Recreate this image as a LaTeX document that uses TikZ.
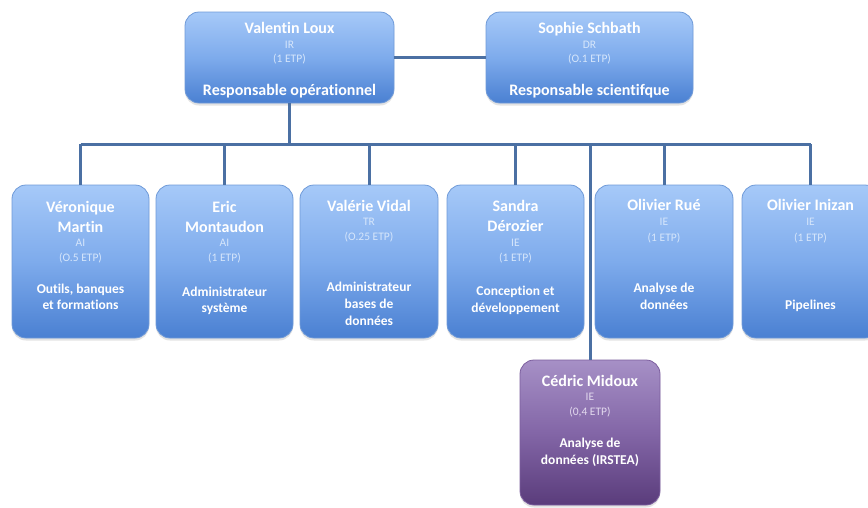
\documentclass[tikz,border=0pt]{standalone}
\usepackage{fontspec}
\setmainfont[Ligatures=NoCommon]{Carlito}
\usetikzlibrary{shadows}
\definecolor{btop}{HTML}{A6C9F8}
\definecolor{bmid}{HTML}{7EABEC}
\definecolor{bbot}{HTML}{4A80D2}
\definecolor{bline}{HTML}{6F9AD8}
\definecolor{ptop}{HTML}{A690C6}
\definecolor{pmid}{HTML}{8366A7}
\definecolor{pbot}{HTML}{5A3C7B}
\definecolor{pline}{HTML}{7C5E9E}
\definecolor{conn}{HTML}{4B70A3}
\definecolor{smb}{HTML}{D6E6FB}
\definecolor{smp}{HTML}{E2D9EE}
\begin{document}
\begin{tikzpicture}[x=1pt,y=-1pt,
  box/.style={rectangle, rounded corners=14pt, draw=bline, line width=0.8pt,
    top color=btop, bottom color=bbot, middle color=bmid,
    drop shadow={opacity=0.22, shadow xshift=0pt, shadow yshift=-2.5pt},
    inner sep=0pt},
  pbox/.style={box, draw=pline, top color=ptop, bottom color=pbot, middle color=pmid},
  nm/.style={text=white, font=\fontsize{16}{19}\selectfont\bfseries, anchor=base, inner sep=0pt},
  sm/.style={text=smb, font=\fontsize{11.5}{13}\selectfont, anchor=base, inner sep=0pt},
  smv/.style={sm, text=smp},
  rlt/.style={text=white, font=\fontsize{16}{19}\selectfont\bfseries, anchor=base, inner sep=0pt},
  rl/.style={text=white, font=\fontsize{13.5}{16}\selectfont\bfseries, anchor=base, inner sep=0pt},
  wire/.style={draw=conn, line width=3pt}
]
\useasboundingbox[fill=white] (0,0) rectangle (868,507);

% boxes
\node[box, minimum width=209pt, minimum height=91pt] (vl) at (289.5,57.5) {};
\node[box, minimum width=207pt, minimum height=91pt] (ss) at (589.5,57.5) {};
\node[box, minimum width=137pt, minimum height=153pt] (vm) at (80.5,261.5) {};
\node[box, minimum width=137pt, minimum height=153pt] (em) at (224.5,261.5) {};
\node[box, minimum width=138pt, minimum height=153pt] (vv) at (369,261.5) {};
\node[box, minimum width=137pt, minimum height=153pt] (sd) at (515.5,261.5) {};
\node[box, minimum width=138pt, minimum height=153pt] (or) at (664,261.5) {};
\node[box, minimum width=137pt, minimum height=153pt] (oi) at (810.5,261.5) {};
\node[pbox, minimum width=140pt, minimum height=145pt] (cm) at (590,432.5) {};

% connectors
\coordinate (bus) at (288,144);
\draw[wire] (vl.east) -- (ss.west);
\draw[wire] (vl.south) -- (vl.south |- bus);
\draw[wire] (vm.north |- bus) -- (oi.north |- bus);
\foreach \b in {vm,em,vv,sd,or,oi,cm}{
  \draw[wire] (\b.north) -- (\b.north |- bus);
}

% Valentin Loux
\node[nm] (vl1) at (289.5,33) {Valentin Loux};
\node[sm] (vl2) at (289.5,48) {IR};
\node[sm] (vl3) at (289.5,62) {(1 ETP)};
\node[rlt] (vl4) at (289.5,95) {Responsable opérationnel};
% Sophie Schbath
\node[nm] (ss1) at (589.5,33) {Sophie Schbath};
\node[sm] (ss2) at (589.5,48) {DR};
\node[sm] (ss3) at (589.5,62) {(O.1 ETP)};
\node[rlt] (ss4) at (589.5,95) {Responsable scientifque};
% Véronique Martin
\node[nm] (vm1) at (80.5,212) {Véronique};
\node[nm] (vm2) at (80.5,232) {Martin};
\node[sm] (vm3) at (80.5,246.5) {AI};
\node[sm] (vm4) at (80.5,261.5) {(O.5 ETP)};
\node[rl] (vm5) at (80.5,293) {Outils, banques};
\node[rl] (vm6) at (80.5,309) {et formations};
% Eric Montaudon
\node[nm] (em1) at (224.5,212) {Eric};
\node[nm] (em2) at (224.5,232) {Montaudon};
\node[sm] (em3) at (224.5,246.5) {AI};
\node[sm] (em4) at (224.5,261.5) {(1 ETP)};
\node[rl] (em5) at (224.5,296) {Administrateur};
\node[rl] (em6) at (224.5,312) {système};
% Valérie Vidal
\node[nm] (vv1) at (369,211) {Valérie Vidal};
\node[sm] (vv2) at (369,225.5) {TR};
\node[sm] (vv3) at (369,240.5) {(O.25 ETP)};
\node[rl] (vv4) at (369,291) {Administrateur};
\node[rl] (vv5) at (369,308) {bases de};
\node[rl] (vv6) at (369,325) {données};
% Sandra Dérozier
\node[nm] (sd1) at (515.5,211) {Sandra};
\node[nm] (sd2) at (515.5,231) {Dérozier};
\node[sm] (sd3) at (515.5,246.5) {IE};
\node[sm] (sd4) at (515.5,261.5) {(1 ETP)};
\node[rl] (sd5) at (515.5,295) {Conception et};
\node[rl] (sd6) at (515.5,312) {développement};
% Olivier Rué
\node[nm] (or1) at (664,210) {Olivier Rué};
\node[sm] (or2) at (664,225.5) {IE};
\node[sm] (or3) at (664,241.5) {(1 ETP)};
\node[rl] (or4) at (664,292) {Analyse de};
\node[rl] (or5) at (664,309) {données};
% Olivier Inizan
\node[nm] (oi1) at (810.5,210) {Olivier Inizan};
\node[sm] (oi2) at (810.5,225.5) {IE};
\node[sm] (oi3) at (810.5,241.5) {(1 ETP)};
\node[rl] (oi4) at (810.5,309) {Pipelines};
% Cédric Midoux
\node[nm] (cm1) at (590,386) {Cédric Midoux};
\node[smv] (cm2) at (590,400.5) {IE};
\node[smv] (cm3) at (590,415.5) {(0,4 ETP)};
\node[rl] (cm4) at (590,447) {Analyse de};
\node[rl] (cm5) at (590,464) {données (IRSTEA)};
\end{tikzpicture}
\end{document}
